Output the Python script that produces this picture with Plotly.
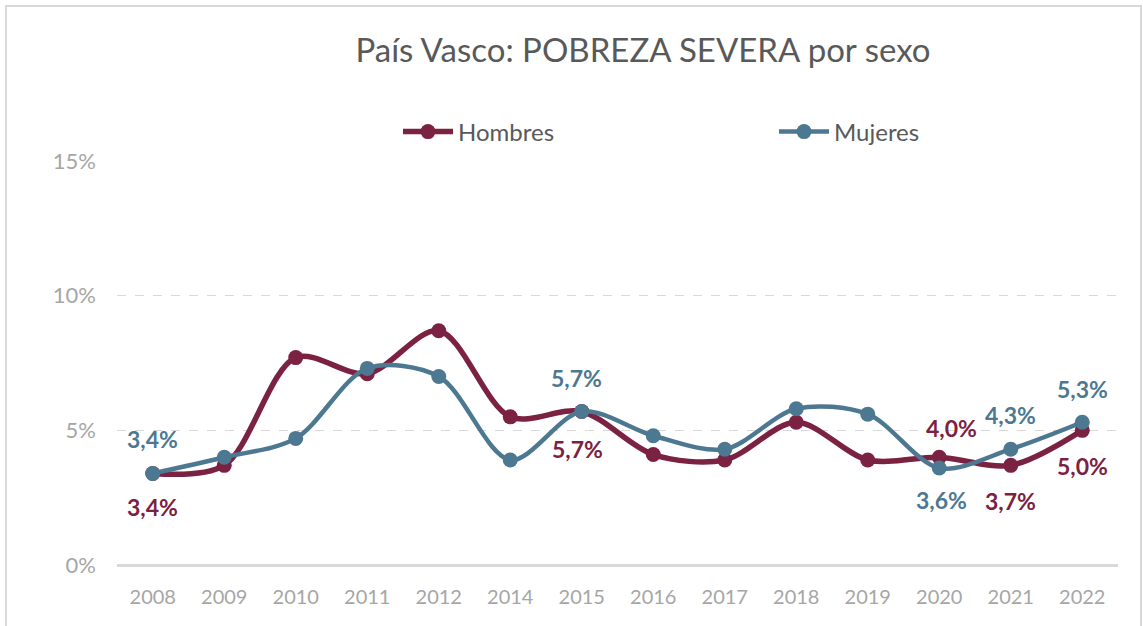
import plotly.graph_objects as go

years = ["2008", "2009", "2010", "2011", "2012", "2014", "2015", "2016",
         "2017", "2018", "2019", "2020", "2021", "2022"]
hombres = [3.4, 3.7, 7.7, 7.1, 8.7, 5.5, 5.7, 4.1, 3.9, 5.3, 3.9, 4.0, 3.7, 5.0]
mujeres = [3.4, 4.0, 4.7, 7.3, 7.0, 3.9, 5.7, 4.8, 4.3, 5.8, 5.6, 3.6, 4.3, 5.3]

# labelled points: (year, yshift, xshift)
hombres_labels = [("2008", -34, 0), ("2015", -38, -4), ("2020", 29, 12),
                  ("2021", -36, 0), ("2022", -36, 0)]
mujeres_labels = [("2008", 34, 0), ("2015", 33, -5), ("2020", -32, 2),
                  ("2021", 34, 0), ("2022", 33, 0)]

C_H = "#7B2142"
C_M = "#4D7891"
FONT = "Lato"

fig = go.Figure()
fig.add_trace(go.Scatter(x=years, y=hombres, name="Hombres", mode="lines+markers",
                         line=dict(color=C_H, width=5.5, shape="spline", smoothing=0.9),
                         marker=dict(color=C_H, size=15)))
fig.add_trace(go.Scatter(x=years, y=mujeres, name="Mujeres", mode="lines+markers",
                         line=dict(color=C_M, width=4.5, shape="spline", smoothing=0.9),
                         marker=dict(color=C_M, size=15)))

def fmt(v):
    return f"{v:.1f}".replace(".", ",") + "%"

for series, labels, col in ((hombres, hombres_labels, C_H), (mujeres, mujeres_labels, C_M)):
    for yr, ys, xs in labels:
        v = series[years.index(yr)]
        fig.add_annotation(x=years.index(yr), y=v, xref="x", yref="y",
                           text="<b>" + fmt(v) + "</b>", showarrow=False,
                           yshift=ys, xshift=xs,
                           font=dict(family=FONT, size=23, color=col))

W, H = 1143, 626
fig.update_layout(
    width=W, height=H,
    paper_bgcolor="white", plot_bgcolor="white",
    margin=dict(l=117, r=25, t=161, b=61, autoexpand=False),
    title=dict(text="País Vasco: POBREZA SEVERA por sexo", x=643 / W, xanchor="center",
               y=1 - 50 / H, yanchor="middle",
               font=dict(family=FONT, size=33, color="#595959")),
    legend=dict(orientation="h", x=(398 - 117) / 1001, xanchor="left",
                y=1 + 29 / 404, yanchor="middle",
                font=dict(family=FONT, size=24, color="#595959"),
                entrywidth=311, itemwidth=50, bgcolor="rgba(0,0,0,0)"),
    showlegend=True,
    shapes=[dict(type="rect", xref="paper", yref="paper",
                 x0=(6 - 117) / 1001, x1=(1141 - 117) / 1001,
                 y0=-(660 - 565) / 404, y1=1 + (161 - 6) / 404,
                 line=dict(color="#D9D9D9", width=2), layer="below")],
)
fig.update_xaxes(type="category", range=[-0.5, 13.5], showgrid=False, showline=False,
                 ticks="", ticklabelstandoff=18,
                 tickfont=dict(family=FONT, size=20, color="#A6A6A6"))
fig.update_yaxes(range=[0, 15], tickmode="array", tickvals=[0, 5, 10, 15],
                 ticktext=["0%", "5%", "10%", "15%"],
                 showgrid=True, gridcolor="#D9D9D9", griddash="dash", gridwidth=1,
                 zeroline=True, zerolinecolor="#D9D9D9", zerolinewidth=3,
                 ticklabelstandoff=20,
                 tickfont=dict(family=FONT, size=22, color="#A6A6A6"))

fig.write_html("out.html", config={"displayModeBar": False},
               post_script="document.body.style.margin='0';document.body.style.overflow='hidden';")
